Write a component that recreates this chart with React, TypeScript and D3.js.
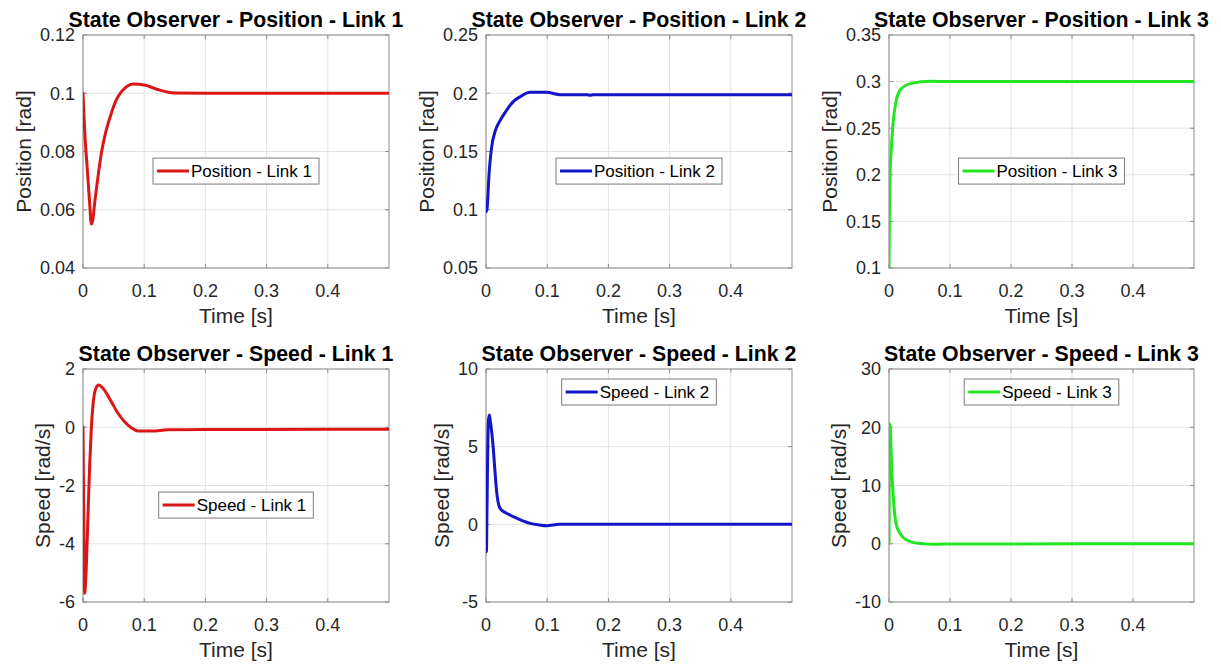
import React from 'react';
import * as d3 from 'd3';

// ---------- data ----------
const timeTicks = [0, 0.1, 0.2, 0.3, 0.4];
const timeDomain = [0, 0.5];

const posLink1Time = [0, 0.0027, 0.0071, 0.0109, 0.0136, 0.016, 0.019, 0.0245, 0.03, 0.0354, 0.0462, 0.0544, 0.0625, 0.0734, 0.0816, 0.1006, 0.122, 0.1495, 0.2, 0.5];
const posLink1Value = [0.1, 0.0874, 0.0736, 0.0622, 0.0551, 0.0565, 0.0622, 0.0713, 0.0794, 0.0851, 0.0931, 0.0977, 0.1005, 0.1026, 0.1032, 0.1028, 0.1013, 0.1001, 0.1, 0.1];

const posLink2Time = [0, 0.0015, 0.0054, 0.0093, 0.0147, 0.0229, 0.0338, 0.0446, 0.0556, 0.0719, 0.099, 0.121, 0.165, 0.17, 0.175, 0.5];
const posLink2Value = [0.0983, 0.1, 0.134, 0.154, 0.167, 0.1765, 0.1856, 0.1928, 0.197, 0.2008, 0.2008, 0.1988, 0.1988, 0.1982, 0.1988, 0.1988];

const posLink3Time = [0, 0.0006, 0.0017, 0.0035, 0.006, 0.011, 0.019, 0.0355, 0.068, 0.1, 0.5];
const posLink3Value = [0.1, 0.15, 0.2, 0.225, 0.25, 0.277, 0.2915, 0.2978, 0.3003, 0.3, 0.3];

const spdLink1Time = [0, 0.0008, 0.0018, 0.0027, 0.0045, 0.0082, 0.0109, 0.0136, 0.0163, 0.0201, 0.0256, 0.0326, 0.0462, 0.0571, 0.068, 0.0789, 0.0897, 0.1114, 0.1387, 0.2, 0.5];
const spdLink1Value = [0, -2.0, -4.5, -5.7, -5.2, -3.01, -1.3, -0.04, 0.76, 1.28, 1.45, 1.34, 0.88, 0.48, 0.19, -0.015, -0.13, -0.13, -0.09, -0.075, -0.07];

const spdLink2Time = [0, 0.0007, 0.0015, 0.0025, 0.0038, 0.0054, 0.0065, 0.0093, 0.0119, 0.0147, 0.0174, 0.0229, 0.0338, 0.0446, 0.061, 0.0719, 0.088, 0.099, 0.12, 0.5];
const spdLink2Value = [0, -1.76, 0.5, 3.8, 6.6, 7.04, 6.8, 5.96, 4.89, 3.39, 2.1, 1.03, 0.71, 0.49, 0.21, 0.06, -0.05, -0.09, 0, 0];

const spdLink3Time = [0, 0.0005, 0.0012, 0.002, 0.0044, 0.007, 0.0098, 0.013, 0.018, 0.023, 0.029, 0.04, 0.056, 0.07, 0.09, 0.5];
const spdLink3Value = [0, 15, 20.6, 20, 13, 8.1, 4.64, 2.9, 1.8, 1.1, 0.64, 0.2, 0.0, -0.1, -0.05, 0];

const posLink1Ticks = [0.04, 0.06, 0.08, 0.1, 0.12];
const posLink2Ticks = [0.05, 0.1, 0.15, 0.2, 0.25];
const posLink3Ticks = [0.1, 0.15, 0.2, 0.25, 0.3, 0.35];
const spdLink1Ticks = [-6, -4, -2, 0, 2];
const spdLink2Ticks = [-5, 0, 5, 10];
const spdLink3Ticks = [-10, 0, 10, 20, 30];

const titles = [
  'State Observer - Position - Link 1',
  'State Observer - Position - Link 2',
  'State Observer - Position - Link 3',
  'State Observer - Speed - Link 1',
  'State Observer - Speed - Link 2',
  'State Observer - Speed - Link 3',
];
const legendNames = [
  'Position - Link 1', 'Position - Link 2', 'Position - Link 3',
  'Speed - Link 1', 'Speed - Link 2', 'Speed - Link 3',
];
const yLabels = ['Position [rad]', 'Position [rad]', 'Position [rad]', 'Speed [rad/s]', 'Speed [rad/s]', 'Speed [rad/s]'];
const xLabel = 'Time [s]';

// ---------- layout / style ----------
const W = 1221;
const H = 666;
const FONT = '"Liberation Sans", Arial, Helvetica, sans-serif';
const colors = ['#dc1616', '#1414c8', '#22e622'];
const colX = [[83, 389], [486, 792], [889, 1194]];
const rowY = [[35, 268], [369, 602]];
const TICK_FS = 18;
const LABEL_FS = 21;
const TITLE_FS = 21.3;
const LEGEND_FS = 17;

let ctx: CanvasRenderingContext2D | null = null;
function textWidth(s: string, size: number, weight = 'normal') {
  if (!ctx) ctx = document.createElement('canvas').getContext('2d');
  if (!ctx) return s.length * size * 0.5;
  ctx.font = `${weight} ${size}px ${FONT}`;
  return ctx.measureText(s).width;
}

const fmt = (v: number) => String(+v.toFixed(4));

type PanelSpec = {
  idx: number;
  t: number[];
  v: number[];
  ticks: number[];
  legendLoc: 'mid' | 'north';
};

const panels: PanelSpec[] = [
  { idx: 0, t: posLink1Time, v: posLink1Value, ticks: posLink1Ticks, legendLoc: 'mid' },
  { idx: 1, t: posLink2Time, v: posLink2Value, ticks: posLink2Ticks, legendLoc: 'mid' },
  { idx: 2, t: posLink3Time, v: posLink3Value, ticks: posLink3Ticks, legendLoc: 'mid' },
  { idx: 3, t: spdLink1Time, v: spdLink1Value, ticks: spdLink1Ticks, legendLoc: 'mid' },
  { idx: 4, t: spdLink2Time, v: spdLink2Value, ticks: spdLink2Ticks, legendLoc: 'north' },
  { idx: 5, t: spdLink3Time, v: spdLink3Value, ticks: spdLink3Ticks, legendLoc: 'north' },
];

function Panel({ p }: { p: PanelSpec }) {
  const col = p.idx % 3;
  const row = Math.floor(p.idx / 3);
  const [x0, x1] = colX[col];
  const [y0, y1] = rowY[row];
  const color = colors[col];
  const x = d3.scaleLinear().domain(timeDomain).range([x0, x1]);
  const y = d3.scaleLinear().domain([p.ticks[0], p.ticks[p.ticks.length - 1]]).range([y1, y0]);
  const pts: [number, number][] = p.t.map((tt, i) => [tt, p.v[i]]);
  const line = d3.line<[number, number]>().x(d => x(d[0])).y(d => y(d[1])).curve(d3.curveMonotoneX);
  const clipId = `clip${p.idx}`;
  const maxTickW = Math.max(...p.ticks.map(t => textWidth(fmt(t), TICK_FS)));
  const yLabelX = x0 - 8 - maxTickW - 16;
  const cx = (x0 + x1) / 2;
  const legW = 38 + textWidth(legendNames[p.idx], LEGEND_FS) + 7;
  const legH = 26;
  const legCY = p.legendLoc === 'mid' ? y0 + (y1 - y0) * 0.584 : y0 + 10 + legH / 2;
  const legX = cx - legW / 2;
  const tickLen = 4;
  const boxColor = '#8c8c8c';
  const gridColor = '#e3e3e3';
  return (
    <g>
      <defs>
        <clipPath id={clipId}>
          <rect x={x0} y={y0} width={x1 - x0} height={y1 - y0} />
        </clipPath>
      </defs>
      <rect x={x0} y={y0} width={x1 - x0} height={y1 - y0} fill="#fff" />
      {timeTicks.map(t => (
        <line key={'gx' + t} x1={x(t)} x2={x(t)} y1={y0} y2={y1} stroke={gridColor} strokeWidth={1} />
      ))}
      {p.ticks.map(t => (
        <line key={'gy' + t} x1={x0} x2={x1} y1={y(t)} y2={y(t)} stroke={gridColor} strokeWidth={1} />
      ))}
      {timeTicks.map(t => (
        <g key={'tx' + t}>
          <line x1={x(t)} x2={x(t)} y1={y1} y2={y1 - tickLen} stroke={boxColor} />
          <line x1={x(t)} x2={x(t)} y1={y0} y2={y0 + tickLen} stroke={boxColor} />
        </g>
      ))}
      {p.ticks.map(t => (
        <g key={'ty' + t}>
          <line x1={x0} x2={x0 + tickLen} y1={y(t)} y2={y(t)} stroke={boxColor} />
          <line x1={x1} x2={x1 - tickLen} y1={y(t)} y2={y(t)} stroke={boxColor} />
        </g>
      ))}
      <rect x={x0} y={y0} width={x1 - x0} height={y1 - y0} fill="none" stroke={boxColor} strokeWidth={1} />
      <path d={line(pts) || ''} fill="none" stroke={color} strokeWidth={3} strokeLinejoin="round" strokeLinecap="round" clipPath={`url(#${clipId})`} />
      {timeTicks.map(t => (
        <text key={'lx' + t} x={x(t)} y={y1 + 29} textAnchor="middle" fontSize={TICK_FS} fill="#262626" fontFamily={FONT}>{fmt(t)}</text>
      ))}
      {p.ticks.map(t => (
        <text key={'ly' + t} x={x0 - 8} y={y(t)} dy="0.35em" textAnchor="end" fontSize={TICK_FS} fill="#262626" fontFamily={FONT}>{fmt(t)}</text>
      ))}
      <text x={cx} y={y1 + 55} textAnchor="middle" fontSize={LABEL_FS} fill="#262626" fontFamily={FONT}>{xLabel}</text>
      <text transform={`translate(${yLabelX},${(y0 + y1) / 2}) rotate(-90)`} textAnchor="middle" dy="0.35em" fontSize={LABEL_FS} fill="#262626" fontFamily={FONT}>{yLabels[p.idx]}</text>
      <text x={cx} y={y0 - 8} textAnchor="middle" fontSize={TITLE_FS} fontWeight="bold" fill="#000" fontFamily={FONT}>{titles[p.idx]}</text>
      <g>
        <rect x={legX} y={legCY - legH / 2} width={legW} height={legH} fill="#fff" stroke="#7a7a7a" strokeWidth={1} />
        <line x1={legX + 4} x2={legX + 36} y1={legCY} y2={legCY} stroke={color} strokeWidth={3} />
        <text x={legX + 38} y={legCY} dy="0.35em" fontSize={LEGEND_FS} fill="#000" fontFamily={FONT}>{legendNames[p.idx]}</text>
      </g>
    </g>
  );
}

export default function App() {
  return (
    <svg width={W} height={H} style={{ position: 'absolute', left: 0, top: 0, background: '#fff' }}>
      <rect x={0} y={0} width={W} height={H} fill="#fff" />
      {panels.map(p => <Panel key={p.idx} p={p} />)}
    </svg>
  );
}
